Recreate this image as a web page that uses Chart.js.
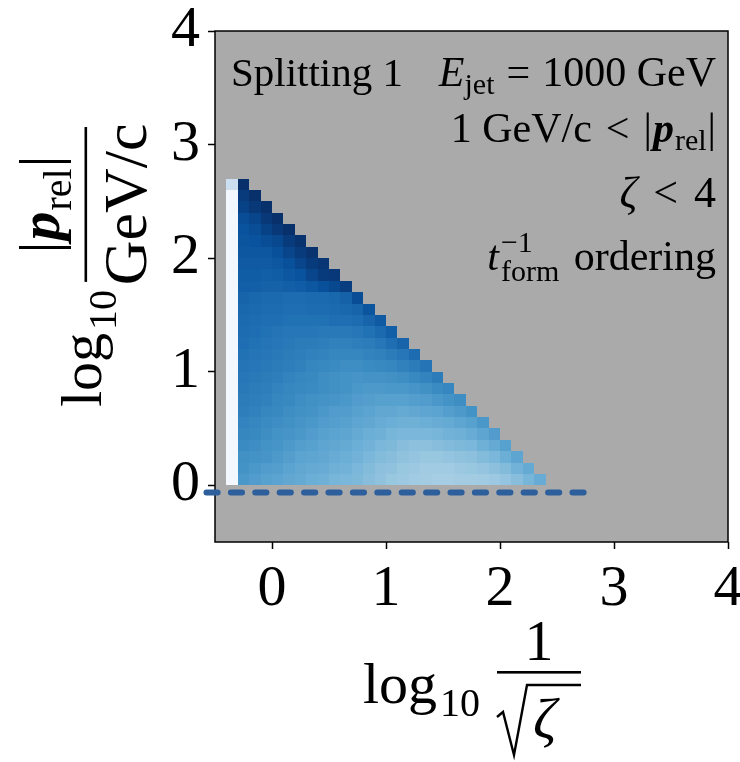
<!DOCTYPE html>
<html>
<head>
<meta charset="utf-8">
<script src="https://cdn.jsdelivr.net/npm/chart.js@4.4.0/dist/chart.umd.min.js"></script>
<style>
  html, body { margin: 0; padding: 0; background: #fff; }
</style>
</head>
<body>
<canvas id="chart" width="740" height="762"></canvas>
<script>
// bin lower edges (log10 1/sqrt(zeta) and log10 |p_rel|)
const xBinEdges = [-0.4, -0.3, -0.2, -0.1, 0.0, 0.1, 0.2, 0.3, 0.4, 0.5, 0.6, 0.7, 0.8, 0.9,
                   1.0, 1.1, 1.2, 1.3, 1.4, 1.5, 1.6, 1.7, 1.8, 1.9, 2.0, 2.1, 2.2, 2.3];
const yBinEdges = [0.0, 0.1, 0.2, 0.3, 0.4, 0.5, 0.6, 0.7, 0.8, 0.9, 1.0, 1.1, 1.2, 1.3,
                   1.4, 1.5, 1.6, 1.7, 1.8, 1.9, 2.0, 2.1, 2.2, 2.3, 2.4, 2.5, 2.6];
const binWidth = 0.1;

// colour level (0-100 on the Blues map) per cell, one row per y bin, starting at the first x bin
const shade = [
  [2, 60, 58, 56, 55, 53, 52, 50, 49, 47, 46, 45, 43, 41, 39, 38, 37, 36, 35, 35, 36, 36, 37, 38, 40, 43, 47, 51],
  [2, 62, 60, 58, 57, 55, 53, 52, 51, 49, 48, 46, 44, 42, 41, 39, 38, 37, 37, 37, 38, 39, 40, 42, 44, 48, 52],
  [2, 63, 62, 61, 59, 57, 55, 54, 53, 51, 50, 48, 46, 44, 43, 41, 40, 39, 39, 40, 41, 42, 44, 46, 50, 54],
  [2, 65, 64, 62, 61, 59, 57, 56, 54, 53, 52, 50, 48, 46, 45, 43, 42, 42, 43, 44, 45, 46, 49, 52, 56],
  [2, 67, 66, 64, 62, 61, 60, 58, 56, 55, 54, 52, 50, 49, 47, 46, 46, 46, 47, 48, 49, 51, 54, 58],
  [2, 68, 67, 65, 64, 63, 61, 60, 58, 57, 56, 54, 53, 51, 50, 49, 49, 50, 51, 52, 54, 56, 60],
  [2, 70, 69, 67, 66, 64, 63, 62, 60, 58, 58, 56, 55, 53, 53, 52, 53, 54, 55, 57, 59, 62],
  [2, 71, 70, 69, 67, 66, 64, 63, 62, 61, 60, 58, 57, 56, 56, 56, 57, 58, 60, 62, 64],
  [2, 72, 71, 70, 68, 67, 66, 65, 64, 63, 62, 60, 59, 59, 60, 60, 61, 63, 65, 67],
  [2, 73, 72, 71, 70, 68, 67, 66, 64, 63, 62, 61, 62, 62, 63, 64, 66, 68, 71],
  [2, 74, 73, 72, 71, 70, 69, 67, 66, 65, 64, 64, 65, 66, 67, 69, 71, 74],
  [2, 75, 74, 73, 72, 71, 70, 69, 68, 67, 67, 67, 68, 69, 71, 73, 77],
  [2, 76, 75, 74, 73, 72, 71, 71, 70, 69, 69, 70, 71, 73, 76, 80],
  [2, 77, 76, 75, 74, 73, 73, 73, 72, 72, 72, 73, 75, 78, 82],
  [2, 78, 77, 76, 76, 75, 75, 75, 75, 76, 76, 77, 80, 84],
  [2, 79, 78, 77, 77, 76, 76, 77, 77, 78, 79, 80, 86],
  [2, 80, 79, 78, 78, 77, 77, 78, 78, 79, 81, 89],
  [2, 82, 82, 81, 81, 82, 83, 85, 88, 91, 95],
  [2, 83, 83, 82, 83, 85, 87, 92, 96, 97],
  [2, 84, 84, 84, 85, 88, 92, 96, 98],
  [2, 85, 85, 85, 88, 92, 96, 99],
  [2, 86, 87, 89, 91, 96, 99],
  [2, 87, 89, 93, 97, 100],
  [2, 89, 92, 97, 100],
  [2, 93, 97, 100],
  [2, 96, 100],
  [22, 100]
];

// dashed reference line
const cutLineX = [-0.575, 2.745];
const cutLineY = [-0.065, -0.065];

const xTicks = [0, 1, 2, 3, 4];
const yTicks = [0, 1, 2, 3, 4];

// matplotlib "Blues"
const blues = ['#f7fbff', '#deebf7', '#c6dbef', '#9ecae1', '#6baed6', '#4292c6', '#2171b5', '#08519c', '#08306b'];

function hexRgb(h) {
  return [1, 3, 5].map(i => parseInt(h.substr(i, 2), 16));
}

function bluesColor(level) {
  const t = Math.max(0, Math.min(1, level / 100)) * (blues.length - 1);
  const i = Math.min(blues.length - 2, Math.floor(t));
  const f = t - i;
  const a = hexRgb(blues[i]), b = hexRgb(blues[i + 1]);
  const c = a.map((v, k) => Math.round(v + (b[k] - v) * f));
  return `rgb(${c[0]},${c[1]},${c[2]})`;
}

const SERIF = '"Liberation Serif", "Times New Roman", serif';
const font = (style, size) => `${style} ${size}px ${SERIF}`;

const backgroundPlugin = {
  id: 'background',
  beforeDraw(chart) {
    const { ctx, chartArea: a } = chart;
    ctx.save();
    ctx.fillStyle = '#fff';
    ctx.fillRect(0, 0, chart.width, chart.height);
    ctx.fillStyle = '#aaaaaa';
    ctx.fillRect(a.left, a.top, a.right - a.left, a.bottom - a.top);
    ctx.restore();
  }
};

const heatmapPlugin = {
  id: 'heatmap',
  beforeDatasetsDraw(chart) {
    const { ctx, chartArea: a, scales: { x, y } } = chart;
    ctx.save();
    shade.forEach((row, r) => {
      const y0 = yBinEdges[r];
      const top = Math.round(y.getPixelForValue(y0 + binWidth));
      const bottom = Math.round(y.getPixelForValue(y0));
      row.forEach((level, k) => {
        const x0 = xBinEdges[k];
        const left = Math.round(x.getPixelForValue(x0));
        const right = Math.round(x.getPixelForValue(x0 + binWidth));
        ctx.fillStyle = bluesColor(level);
        ctx.fillRect(left, top, right - left, bottom - top);
      });
    });
    // frame
    ctx.strokeStyle = '#000';
    ctx.lineWidth = 1.5;
    ctx.strokeRect(a.left, a.top, a.right - a.left, a.bottom - a.top);
    ctx.restore();
  }
};

function runsWidth(ctx, runs) {
  let w = 0;
  runs.forEach(r => { ctx.font = r.f; w += ctx.measureText(r.t).width + (r.gap || 0); });
  return w;
}

function drawRuns(ctx, runs, x, y, align) {
  const w = runsWidth(ctx, runs);
  let cx = align === 'right' ? x - w : x;
  runs.forEach(r => {
    ctx.font = r.f;
    ctx.fillText(r.t, cx, y + (r.dy || 0));
    cx += ctx.measureText(r.t).width + (r.gap || 0);
  });
  return w;
}

const textPlugin = {
  id: 'labels',
  afterDraw(chart) {
    const ctx = chart.ctx;
    const main = 42, sub = 30;
    ctx.save();
    ctx.fillStyle = '#000';
    ctx.textBaseline = 'alphabetic';
    ctx.textAlign = 'left';

    // annotation block
    drawRuns(ctx, [{ t: 'Splitting 1', f: font('', 41) }], 231, 86);
    drawRuns(ctx, [
      { t: 'E', f: font('italic', main) },
      { t: 'jet', f: font('', sub), dy: 8, gap: 12 },
      { t: '=', f: font('', main), gap: 12 },
      { t: '1000 GeV', f: font('', main) }
    ], 716, 86, 'right');
    drawRuns(ctx, [
      { t: '1 GeV/c', f: font('', main), gap: 14 },
      { t: '<', f: font('', main), gap: 14 },
      { t: '|', f: font('', main), gap: 1 },
      { t: 'p', f: font('bold italic', main), gap: 1 },
      { t: 'rel', f: font('', sub), dy: 8, gap: 1 },
      { t: '|', f: font('', main) }
    ], 716, 142, 'right');
    drawRuns(ctx, [
      { t: 'ζ', f: font('italic', 44), gap: 16 },
      { t: '<', f: font('', 44), gap: 16 },
      { t: '4', f: font('', 44) }
    ], 716, 207, 'right');

    // t_form^-1 ordering
    ctx.font = font('', main);
    const wOrd = ctx.measureText(' ordering').width + 4;
    ctx.font = font('', sub);
    const wSub = Math.max(ctx.measureText('form').width, ctx.measureText('−1').width);
    ctx.font = font('italic', main);
    const wT = ctx.measureText('t').width;
    const sx = 716 - wOrd - wSub - wT - 2;
    ctx.fillText('t', sx, 270);
    ctx.font = font('', sub);
    ctx.fillText('−1', sx + wT + 2, 252);
    ctx.fillText('form', sx + wT + 2, 281);
    ctx.font = font('', main);
    ctx.fillText(' ordering', sx + wT + 6 + wSub, 270);

    // x axis title: log10 1/sqrt(zeta)
    ctx.font = font('', 58);
    ctx.fillText('log', 363, 703);
    const wLog = ctx.measureText('log').width;
    ctx.font = font('', 40);
    ctx.fillText('10', 363 + wLog + 3, 716);
    ctx.fillRect(497, 671, 84, 2.6);
    ctx.font = font('', 58);
    ctx.textAlign = 'center';
    ctx.fillText('1', 539, 660);
    ctx.textAlign = 'left';
    ctx.lineWidth = 2.4;
    ctx.lineJoin = 'miter';
    ctx.beginPath();
    ctx.moveTo(497, 717);
    ctx.lineTo(503, 712);
    ctx.lineTo(514, 755);
    ctx.lineTo(527, 685);
    ctx.lineTo(581, 685);
    ctx.stroke();
    ctx.font = font('italic', 58);
    ctx.fillText('ζ', 533, 738);

    // y axis title: log10 |p_rel| / (GeV/c), rotated
    ctx.translate(101, 407);
    ctx.rotate(-Math.PI / 2);
    ctx.font = font('', 58);
    ctx.fillText('log', 0, 0);
    const wl = ctx.measureText('log').width;
    ctx.font = font('', 40);
    ctx.fillText('10', wl + 3, 15);
    const uBar0 = wl + 3 + ctx.measureText('10').width + 8;
    const uBar1 = 280;
    ctx.fillRect(uBar0, -16.5, uBar1 - uBar0, 2.6);
    const uMid = (uBar0 + uBar1) / 2;
    const numRuns = [
      { t: '|', f: font('', 58), gap: 1 },
      { t: 'p', f: font('bold italic', 58), gap: 1 },
      { t: 'rel', f: font('', 40), dy: 12, gap: 1 },
      { t: '|', f: font('', 58) }
    ];
    drawRuns(ctx, numRuns, uMid - runsWidth(ctx, numRuns) / 2, -42);
    ctx.font = font('', 62);
    ctx.textAlign = 'center';
    ctx.fillText('GeV/c', uMid, 45);
    ctx.restore();
  }
};

const tickFont = { family: SERIF, size: 58 };

new Chart(document.getElementById('chart'), {
  type: 'scatter',
  data: {
    datasets: [{
      data: cutLineX.map((x, i) => ({ x: x, y: cutLineY[i] })),
      showLine: true,
      borderColor: '#2c5f9b',
      borderWidth: 6,
      borderDash: [11.2, 13.2],
      borderCapStyle: 'round',
      pointRadius: 0,
      clip: false
    }]
  },
  options: {
    responsive: false,
    animation: false,
    events: [],
    layout: { padding: { left: 0, right: 12, top: 31, bottom: 0 } },
    plugins: { legend: { display: false }, tooltip: { enabled: false } },
    scales: {
      x: {
        type: 'linear',
        min: -0.5,
        max: 4,
        afterBuildTicks: s => { s.ticks = xTicks.map(v => ({ value: v })); },
        afterFit: s => { s.height = 220; s.paddingLeft = 0; s.paddingRight = 0; },
        border: { display: false },
        grid: { drawOnChartArea: false, drawTicks: true, tickLength: 7, tickColor: '#000', tickWidth: 1.5 },
        ticks: { font: tickFont, color: '#000', padding: 6, maxRotation: 0, autoSkip: false }
      },
      y: {
        type: 'linear',
        min: -0.5,
        max: 4,
        afterBuildTicks: s => { s.ticks = yTicks.map(v => ({ value: v })); },
        afterFit: s => { s.width = 215; s.paddingTop = 0; s.paddingBottom = 0; },
        border: { display: false },
        grid: { drawOnChartArea: false, drawTicks: true, tickLength: 7, tickColor: '#000', tickWidth: 1.5 },
        ticks: { font: tickFont, color: '#000', padding: 8, autoSkip: false }
      }
    }
  },
  plugins: [backgroundPlugin, heatmapPlugin, textPlugin]
});
</script>
</body>
</html>
